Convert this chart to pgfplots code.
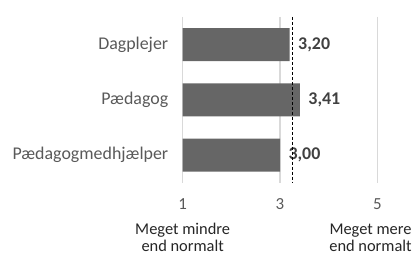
\documentclass[border=0pt]{standalone}
\usepackage{pgfplots}
\pgfplotsset{compat=1.18}
\usepackage{fontspec}
\setmainfont{Carlito}
\definecolor{barc}{HTML}{666666}
\definecolor{gridc}{HTML}{D9D9D9}
\definecolor{txt}{HTML}{595959}
\definecolor{val}{HTML}{404040}
\definecolor{lab}{HTML}{262626}
\begin{document}
\begin{tikzpicture}
\path (0,0) rectangle (415bp,264bp);
\begin{axis}[
 at={(183bp,81bp)}, anchor=south west,
 scale only axis, width=195bp, height=166bp,
 xmin=1, xmax=5, ymin=-0.5, ymax=2.5, y dir=reverse,
 clip mode=individual,
 xtick={1,3,5}, xticklabels={1,3,5},
 ytick={0,1,2}, yticklabels={Dagplejer,Pædagog,Pædagogmedhjælper},
 major tick length=0pt,
 axis line style={draw=none},
 xmajorgrids, grid style={gridc, line width=1.5bp},
 xticklabel style={text=txt, font=\fontsize{17}{19}\selectfont, yshift=-12bp},
 yticklabel style={text=txt, font=\fontsize{18}{21}\selectfont, xshift=-11bp},
]
\addplot[xbar, bar width=33bp, bar shift=0pt, fill=barc, draw=none,
 nodes near coords, point meta=explicit symbolic,
 every node near coord/.append style={font=\bfseries\fontsize{18}{21}\selectfont, text=val, anchor=west, xshift=5bp}]
 table[x=x, y=y, meta=label] {
x y label
3.20 0 3,20
3.41 1 3,41
3.00 2 3,00
};
\addplot[black, line width=0.8bp, dash pattern=on 3bp off 2bp] coordinates {(3.26,-0.5) (3.26,2.5)};
\node[align=center, text=lab, font=\fontsize{16.5}{17}\selectfont, anchor=center, yshift=-55bp] at (axis cs:1,2.5) {Meget mindre\\end normalt};
\node[align=center, text=lab, font=\fontsize{16.5}{17}\selectfont, anchor=center, yshift=-55bp] at (axis cs:4.86,2.5) {Meget mere\\end normalt};
\end{axis}
\end{tikzpicture}
\end{document}
